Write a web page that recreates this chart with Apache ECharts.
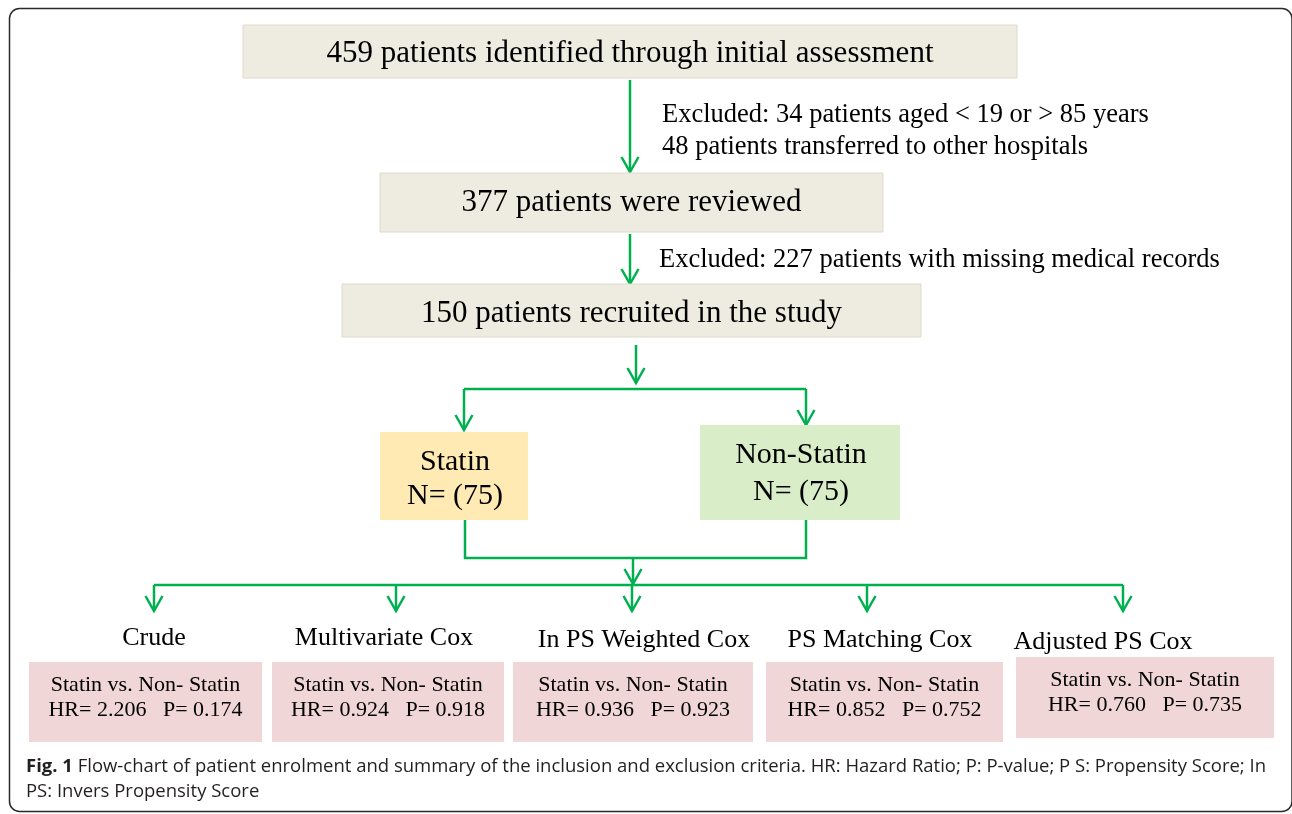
<!DOCTYPE html>
<html><head><meta charset="utf-8">
<script src="https://cdn.jsdelivr.net/npm/echarts@6/dist/echarts.min.js"></script>
<style>html,body{margin:0;padding:0;background:#fff}#chart{width:1292px;height:814px}</style>
</head><body><div id="chart"></div>
<script>
// ---------- DATA ----------
const stageLabels = [
  "459 patients identified through initial assessment",
  "377 patients were reviewed",
  "150 patients recruited in the study"
];
const exclusionNotes = [
  ["Excluded: 34 patients aged < 19 or > 85 years", "48 patients transferred to other hospitals"],
  ["Excluded: 227 patients with missing medical records"]
];
const groupNames = ["Statin", "Non-Statin"];
const groupN = [75, 75];
const methodNames = ["Crude", "Multivariate Cox", "In PS Weighted Cox", "PS Matching Cox", "Adjusted PS Cox"];
const comparisonLabel = "Statin vs. Non- Statin";
const hazardRatios = ["2.206", "0.924", "0.936", "0.852", "0.760"];
const pValues = ["0.174", "0.918", "0.923", "0.752", "0.735"];
const captionBold = "Fig. 1";
const captionLines = [
  "Flow-chart of patient enrolment and summary of the inclusion and exclusion criteria. HR: Hazard Ratio; P: P-value; P S: Propensity Score; In",
  "PS: Invers Propensity Score"
];

// ---------- LAYOUT (positions only) ----------
const stageBoxes = [[243,25,1017,78,54],[380,173,883,232,203],[342,284,921,337,314]];
const noteAnchors = [[662,[115,147]],[659,[260]]];
const groupBoxes = [[380,432,528,520,455,[462,496]],[700,425,900,520,801,[455,492]]];
const groupFills = ["#FEEAB2", "#D9EEC8"];
const methodLabelPos = [[154,638],[384,638],[644,640],[880,640],[1103,642]];
const resultBoxes = [[29,662,262,742],[272,662,504,742],[513,662,753,742],[766,662,1003,742],[1016,657,1274,738]];
const resultTextY = [[685.5,710.5],[685.5,710.5],[685.5,710.5],[685.5,710.5],[680.5,705.5]];
const methodArrowX = [154,396,632,867,1123];
const connectors = [
  {pts:[[630,80],[630,172]], arrow:true},
  {pts:[[630,234],[630,284]], arrow:true},
  {pts:[[636,345],[636,383]], arrow:true},
  {pts:[[464,389],[806,389]], arrow:false},
  {pts:[[464,389],[464,430]], arrow:true},
  {pts:[[806,389],[806,425]], arrow:true},
  {pts:[[465,520],[465,558],[806,558],[806,520]], arrow:false},
  {pts:[[633,558],[633,584]], arrow:true},
  {pts:[[154,585],[1123,585]], arrow:false}
].concat(methodArrowX.map(x => ({pts:[[x,585],[x,611]], arrow:true})));

const GREEN = "#00B050";
const SERIF = '"Liberation Serif", "Times New Roman", serif';
const SANS = '"Open Sans", sans-serif';

// caption fit
const mctx = document.createElement('canvas').getContext('2d');
const capSize = 17.5;
const capX = 26, capRight = 1266;
mctx.font = 'bold ' + capSize + 'px ' + SANS;
const wBold = mctx.measureText(captionBold + ' ').width;
mctx.font = capSize + 'px ' + SANS;
const wRest = mctx.measureText(captionLines[0]).width;
const capScale = (capRight - capX) / (wBold + wRest);

const chart = echarts.init(document.getElementById('chart'), null, {renderer: 'canvas'});

function rectOf(api, b) {
  const p0 = api.coord([b[0], b[1]]), p1 = api.coord([b[2], b[3]]);
  return {x: p0[0], y: p0[1], width: p1[0] - p0[0], height: p1[1] - p0[1]};
}
function txt(api, x, y, text, font, align, extra) {
  const p = api.coord([x, y]);
  return Object.assign({type: 'text', x: p[0], y: p[1], style: {text: text, font: font, fill: '#000', textAlign: align || 'center', textVerticalAlign: 'middle'}}, extra || {});
}

const option = {
  animation: false,
  grid: {left: 0, right: 0, top: 0, bottom: 0},
  xAxis: {type: 'value', min: 0, max: 1292, show: false},
  yAxis: {type: 'value', min: 0, max: 814, inverse: true, show: false},
  graphic: [{type: 'rect', shape: {x: 9.5, y: 8.5, width: 1282.5, height: 803, r: 10}, style: {fill: null, stroke: '#2a2a2a', lineWidth: 1.5}, z: 0}],
  series: [
    { // connectors
      type: 'custom', coordinateSystem: 'cartesian2d', clip: false, silent: true,
      data: connectors.map((c, i) => [i, 0]),
      renderItem: function (params, api) {
        const c = connectors[api.value(0)];
        const pts = c.pts.map(p => api.coord(p));
        const children = [{type: 'polyline', shape: {points: pts}, style: {stroke: GREEN, lineWidth: 2.5, fill: null}}];
        if (c.arrow) {
          const t = pts[pts.length - 1];
          children.push({type: 'polyline', shape: {points: [[t[0] - 8.5, t[1] - 15], t, [t[0] + 8.5, t[1] - 15]]}, style: {stroke: GREEN, lineWidth: 2.5, fill: null}});
        }
        return {type: 'group', children: children};
      }
    },
    { // stage boxes
      type: 'custom', coordinateSystem: 'cartesian2d', clip: false, silent: true,
      data: stageLabels.map((s, i) => [i, 0]),
      renderItem: function (params, api) {
        const i = api.value(0), b = stageBoxes[i];
        return {type: 'group', children: [
          {type: 'rect', shape: rectOf(api, b), style: {fill: '#EEECE1', stroke: '#DEDACB', lineWidth: 1}},
          txt(api, (b[0] + b[2]) / 2, b[4], stageLabels[i], '31px ' + SERIF)
        ]};
      }
    },
    { // exclusion notes
      type: 'custom', coordinateSystem: 'cartesian2d', clip: false, silent: true,
      data: exclusionNotes.map((s, i) => [i, 0]),
      renderItem: function (params, api) {
        const i = api.value(0), a = noteAnchors[i];
        return {type: 'group', children: exclusionNotes[i].map((line, k) => txt(api, a[0], a[1][k], line, '26.5px ' + SERIF, 'left'))};
      }
    },
    { // groups
      type: 'custom', coordinateSystem: 'cartesian2d', clip: false, silent: true,
      data: groupNames.map((s, i) => [i, 0]),
      renderItem: function (params, api) {
        const i = api.value(0), b = groupBoxes[i];
        return {type: 'group', children: [
          {type: 'rect', shape: rectOf(api, b), style: {fill: groupFills[i]}},
          txt(api, b[4], b[5][0], groupNames[i], '30px ' + SERIF),
          txt(api, b[4], b[5][1], 'N= (' + groupN[i] + ')', '30px ' + SERIF)
        ]};
      }
    },
    { // methods and results
      type: 'custom', coordinateSystem: 'cartesian2d', clip: false, silent: true,
      data: methodNames.map((s, i) => [i, 0]),
      renderItem: function (params, api) {
        const i = api.value(0), b = resultBoxes[i], cx = (b[0] + b[2]) / 2;
        return {type: 'group', children: [
          txt(api, methodLabelPos[i][0], methodLabelPos[i][1], methodNames[i], '26px ' + SERIF),
          {type: 'rect', shape: rectOf(api, b), style: {fill: '#F0D6D6'}},
          txt(api, cx, resultTextY[i][0], comparisonLabel, '22px ' + SERIF),
          txt(api, cx, resultTextY[i][1], 'HR= ' + hazardRatios[i] + '   P= ' + pValues[i], '22px ' + SERIF)
        ]};
      }
    },
    { // caption
      type: 'custom', coordinateSystem: 'cartesian2d', clip: false, silent: true,
      data: [[0, 0]],
      renderItem: function (params, api) {
        const ys = [767, 792];
        const col = '#231F20';
        const p1 = api.coord([capX, ys[0]]), p2 = api.coord([capX, ys[1]]);
        return {type: 'group', children: [
          {type: 'text', x: p1[0], y: p1[1], scaleX: capScale, style: {text: captionBold, font: 'bold ' + capSize + 'px ' + SANS, fill: col, textAlign: 'left', textVerticalAlign: 'middle'}},
          {type: 'text', x: p1[0] + wBold * capScale, y: p1[1], scaleX: capScale, style: {text: captionLines[0], font: capSize + 'px ' + SANS, fill: col, textAlign: 'left', textVerticalAlign: 'middle'}},
          {type: 'text', x: p2[0], y: p2[1], scaleX: capScale, style: {text: captionLines[1], font: capSize + 'px ' + SANS, fill: col, textAlign: 'left', textVerticalAlign: 'middle'}}
        ]};
      }
    }
  ]
};
chart.setOption(option);
</script></body></html>
